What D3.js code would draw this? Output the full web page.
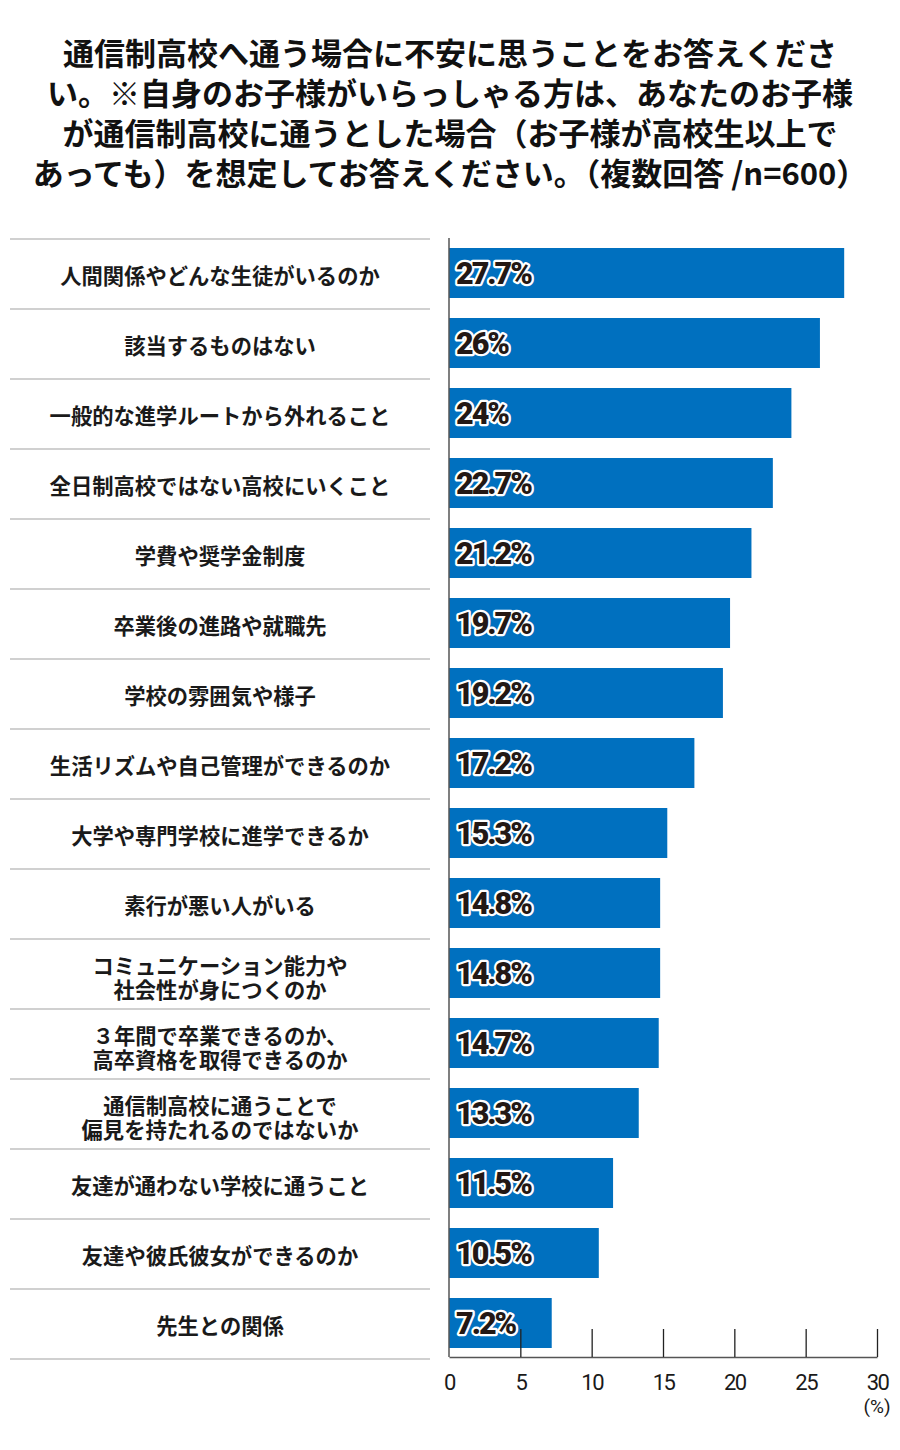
<!DOCTYPE html>
<html><head><meta charset="utf-8">
<script src="https://cdn.jsdelivr.net/npm/d3@7"></script>
<style>
html,body{margin:0;padding:0;background:#fff;}
svg{display:block;}
</style></head>
<body>
<script>
const titleLines = [
  "通信制高校へ通う場合に不安に思うことをお答えくださ",
  "い。※自身のお子様がいらっしゃる方は、あなたのお子様",
  "が通信制高校に通うとした場合（お子様が高校生以上で",
  "あっても）を想定してお答えください。（複数回答 /n=600）"
];
const categories = [
  ["人間関係やどんな生徒がいるのか"],
  ["該当するものはない"],
  ["一般的な進学ルートから外れること"],
  ["全日制高校ではない高校にいくこと"],
  ["学費や奨学金制度"],
  ["卒業後の進路や就職先"],
  ["学校の雰囲気や様子"],
  ["生活リズムや自己管理ができるのか"],
  ["大学や専門学校に進学できるか"],
  ["素行が悪い人がいる"],
  ["コミュニケーション能力や","社会性が身につくのか"],
  ["３年間で卒業できるのか、","高卒資格を取得できるのか"],
  ["通信制高校に通うことで","偏見を持たれるのではないか"],
  ["友達が通わない学校に通うこと"],
  ["友達や彼氏彼女ができるのか"],
  ["先生との関係"]
];
const values = [27.7, 26, 24, 22.7, 21.2, 19.7, 19.2, 17.2, 15.3, 14.8, 14.8, 14.7, 13.3, 11.5, 10.5, 7.2];
const valueLabels = ["27.7%","26%","24%","22.7%","21.2%","19.7%","19.2%","17.2%","15.3%","14.8%","14.8%","14.7%","13.3%","11.5%","10.5%","7.2%"];
const xTicks = [0, 5, 10, 15, 20, 25, 30];
const unitLabel = "(%)";

const W = 900, H = 1450;
const svg = d3.select("body").append("svg").attr("width", W).attr("height", H);

const jp = "'Noto Sans CJK JP','Noto Sans',sans-serif";

// title
svg.append("g").selectAll("text").data(titleLines).join("text")
  .attr("x", 450).attr("y", (d,i) => 65 + i*40)
  .attr("text-anchor", "middle")
  .attr("font-family", jp).attr("font-weight", 700).attr("font-size", 31)
  .attr("fill", "#111")
  .text(d => d);

const ids = categories.map((c,i) => i);
const y = d3.scaleBand().domain(ids).range([238, 1358]).paddingInner(20/70).paddingOuter(10/70);
const x = d3.scaleLinear().domain([0, 30]).range([449, 877]);
const step = y.step();

// separators
const seps = d3.range(categories.length + 1);
svg.append("g").selectAll("line").data(seps).join("line")
  .attr("x1", 10).attr("x2", 430)
  .attr("y1", i => 238 + i*step + 1).attr("y2", i => 238 + i*step + 1)
  .attr("stroke", "#d0d0d0").attr("stroke-width", 2);

// category labels
const lab = svg.append("g").selectAll("text").data(categories).join("text")
  .attr("text-anchor", "middle")
  .attr("font-family", jp).attr("font-weight", 700).attr("font-size", 21.3)
  .attr("fill", "#1a1a1a");
lab.each(function(d, i){
  const cy = y(i) + y.bandwidth()/2;
  const t = d3.select(this);
  if (d.length === 1) {
    t.append("tspan").attr("x", 220).attr("y", cy + 1.5).attr("dominant-baseline", "central").text(d[0]);
  } else {
    t.append("tspan").attr("x", 220).attr("y", cy - 9).attr("dominant-baseline", "central").text(d[0]);
    t.append("tspan").attr("x", 220).attr("y", cy + 15).attr("dominant-baseline", "central").text(d[1]);
  }
});

// bars
svg.append("g").selectAll("rect").data(values).join("rect")
  .attr("x", x(0)).attr("y", (d,i) => y(i))
  .attr("width", d => x(d) - x(0)).attr("height", y.bandwidth())
  .attr("fill", "#0070bf");

// axis
const axis = svg.append("g").attr("transform", "translate(0,1357)")
  .call(d3.axisBottom(x).tickValues(xTicks).tickSize(-28).tickSizeOuter(0).tickPadding(17));
axis.select(".domain").attr("stroke", "#555").attr("stroke-width", 1.5);
axis.selectAll(".tick line").attr("stroke", "#222").attr("stroke-width", 1.3);
axis.selectAll(".tick text").attr("font-family", "Roboto, sans-serif").attr("font-size", 22)
  .attr("letter-spacing", -1.5).attr("fill", "#1a1a1a");
axis.selectAll(".tick").filter(d => d === 0).select("line").remove();

// vertical axis line
svg.append("line").attr("x1", x(0)).attr("x2", x(0)).attr("y1", 238).attr("y2", 1357)
  .attr("stroke", "#555").attr("stroke-width", 1.5);

// value labels
svg.append("g").selectAll("text").data(valueLabels).join("text")
  .attr("x", x(0) + 7).attr("y", (d,i) => y(i) + y.bandwidth()/2 + 11)
  .attr("font-family", "Roboto, sans-serif").attr("font-weight", 900).attr("font-size", 30.5)
  .attr("letter-spacing", -2)
  .attr("fill", "#231815").attr("stroke", "#fff").attr("stroke-width", 4.5)
  .attr("stroke-linejoin", "round").attr("paint-order", "stroke")
  .text(d => d);

// unit
svg.append("text").attr("x", x(30)).attr("y", 1413).attr("text-anchor", "middle")
  .attr("font-family", "Roboto, sans-serif").attr("font-size", 19).attr("fill", "#1a1a1a")
  .text(unitLabel);
</script>
</body></html>
